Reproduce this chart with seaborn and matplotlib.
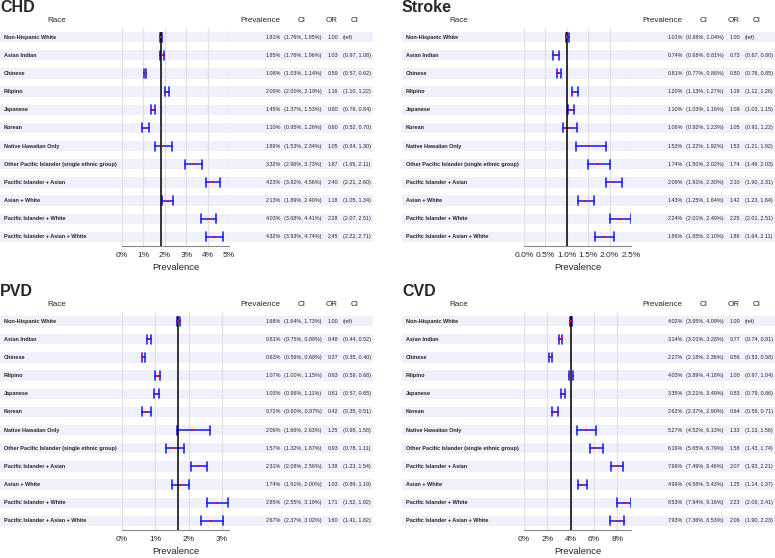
import matplotlib
matplotlib.use("Agg")
import matplotlib.pyplot as plt
from matplotlib import transforms
from matplotlib.patches import Rectangle
import pandas as pd
import seaborn as sns

sns.set_style("white")
plt.rcParams["font.family"] = ["Liberation Sans", "DejaVu Sans"]

races = [
    "Non-Hispanic White",
    "Asian Indian",
    "Chinese",
    "Filipino",
    "Japanese",
    "Korean",
    "Native Hawaiian Only",
    "Other Pacific Islander (single ethnic group)",
    "Pacific Islander + Asian",
    "Asian + White",
    "Pacific Islander + White",
    "Pacific Islander + Asian + White",
]

# CHD
chd_prev = [1.81, 1.85, 1.08, 2.09, 1.45, 1.10, 1.89, 3.32, 4.23, 2.13, 4.03, 4.32]
chd_lo = [1.76, 1.76, 1.03, 2.00, 1.37, 0.95, 1.53, 2.96, 3.92, 1.89, 3.68, 3.93]
chd_hi = [1.85, 1.96, 1.14, 2.19, 1.53, 1.26, 2.34, 3.73, 4.56, 2.40, 4.41, 4.74]
chd_or = [1.00, 1.03, 0.59, 1.16, 0.80, 0.60, 1.05, 1.87, 2.40, 1.18, 2.28, 2.45]
chd_or_lo = [None, 0.97, 0.57, 1.10, 0.76, 0.52, 0.84, 1.65, 2.21, 1.05, 2.07, 2.22]
chd_or_hi = [None, 1.08, 0.62, 1.22, 0.84, 0.70, 1.30, 2.11, 2.60, 1.34, 2.51, 2.71]

# Stroke
stroke_prev = [1.01, 0.74, 0.81, 1.20, 1.10, 1.06, 1.53, 1.74, 2.09, 1.43, 2.24, 1.86]
stroke_lo = [0.98, 0.68, 0.77, 1.13, 1.03, 0.92, 1.22, 1.50, 1.91, 1.25, 2.01, 1.65]
stroke_hi = [1.04, 0.81, 0.86, 1.27, 1.16, 1.23, 1.92, 2.02, 2.30, 1.64, 2.49, 2.10]
stroke_or = [1.00, 0.73, 0.80, 1.19, 1.09, 1.05, 1.53, 1.74, 2.10, 1.42, 2.25, 1.86]
stroke_or_lo = [None, 0.67, 0.76, 1.12, 1.03, 0.91, 1.21, 1.49, 1.90, 1.23, 2.01, 1.64]
stroke_or_hi = [None, 0.80, 0.85, 1.26, 1.15, 1.22, 1.92, 2.03, 2.31, 1.64, 2.51, 2.11]

# PVD
pvd_prev = [1.68, 0.81, 0.63, 1.07, 1.03, 0.72, 2.09, 1.57, 2.31, 1.74, 2.85, 2.67]
pvd_lo = [1.64, 0.75, 0.59, 1.00, 0.96, 0.60, 1.66, 1.32, 2.08, 1.51, 2.55, 2.37]
pvd_hi = [1.73, 0.88, 0.68, 1.15, 1.11, 0.87, 2.63, 1.87, 2.56, 2.00, 3.19, 3.02]
pvd_or = [1.00, 0.48, 0.37, 0.63, 0.61, 0.42, 1.25, 0.93, 1.38, 1.03, 1.71, 1.60]
pvd_or_lo = [None, 0.44, 0.35, 0.59, 0.57, 0.35, 0.98, 0.78, 1.23, 0.89, 1.52, 1.41]
pvd_or_hi = [None, 0.52, 0.40, 0.68, 0.65, 0.51, 1.58, 1.11, 1.54, 1.19, 1.92, 1.82]

# CVD
cvd_prev = [4.02, 3.14, 2.27, 4.03, 3.35, 2.62, 5.27, 6.19, 7.96, 4.99, 8.53, 7.93]
cvd_lo = [3.95, 3.01, 2.18, 3.89, 3.21, 2.37, 4.52, 5.65, 7.49, 4.58, 7.94, 7.36]
cvd_hi = [4.09, 3.28, 2.36, 4.18, 3.49, 2.90, 6.13, 6.79, 8.46, 5.43, 9.16, 8.53]
cvd_or = [1.00, 0.77, 0.56, 1.00, 0.83, 0.64, 1.33, 1.58, 2.07, 1.25, 2.23, 2.06]
cvd_or_lo = [None, 0.74, 0.53, 0.97, 0.79, 0.58, 1.13, 1.43, 1.93, 1.14, 2.06, 1.90]
cvd_or_hi = [None, 0.81, 0.58, 1.04, 0.86, 0.71, 1.56, 1.74, 2.21, 1.37, 2.41, 2.23]

panels = [
    ("CHD", chd_prev, chd_lo, chd_hi, chd_or, chd_or_lo, chd_or_hi),
    ("Stroke", stroke_prev, stroke_lo, stroke_hi, stroke_or, stroke_or_lo, stroke_or_hi),
    ("PVD", pvd_prev, pvd_lo, pvd_hi, pvd_or, pvd_or_lo, pvd_or_hi),
    ("CVD", cvd_prev, cvd_lo, cvd_hi, cvd_or, cvd_or_lo, cvd_or_hi),
]
# axis settings per panel: (xmax, ticks, label format)
axis_opts = {
    "CHD": (5.0, [0, 1, 2, 3, 4, 5], "{:.0f}%"),
    "Stroke": (2.5, [0, 0.5, 1.0, 1.5, 2.0, 2.5], "{:.1f}%"),
    "PVD": (3.21, [0, 1, 2, 3], "{:.0f}%"),
    "CVD": (9.16, [0, 2, 4, 6, 8], "{:.0f}%"),
}
offsets = [(0, 0), (402, 0), (0, 284), (402, 284)]

W, H = 775, 558
fig = plt.figure(figsize=(W / 100, H / 100), dpi=100)
bg = fig.add_axes([0, 0, 1, 1])
bg.set_xlim(0, W)
bg.set_ylim(H, 0)
bg.axis("off")

band_col = "#f0f0fa"
bar_col = "#2626f2"

for (name, prev, lo, hi, odds, odds_lo, odds_hi), (dx, dy) in zip(panels, offsets):
    xmax, ticks, fmt = axis_opts[name]
    ax = fig.add_axes([(122 + dx) / W, 1 - (246 + dy) / H, 107 / W, 218 / H])
    ax.patch.set_alpha(0)

    df = pd.DataFrame({"race": races * 3, "value": lo + prev + hi})
    sns.pointplot(data=df, x="value", y="race", order=races, orient="h",
                  estimator="median", errorbar=("pi", 100), color="red",
                  linestyle="none", capsize=0.5,
                  err_kws={"color": bar_col, "linewidth": 1.2}, ax=ax)
    for ln in ax.lines:
        if ln.get_marker() == "o":
            ln.set_marker("s")
            ln.set_markersize(1.6)
            ln.set_markeredgewidth(0)
            ln.set_zorder(5)

    n = len(races)
    ax.vlines(prev[0], -0.3, n - 0.5, color="black", lw=1.1, zorder=4)
    ax.set_ylim(n - 0.5, -0.5)
    ax.set_xlim(0, xmax)
    ax.set_xticks(ticks)
    ax.set_xticklabels([fmt.format(t) for t in ticks])
    ax.set_yticks([])
    ax.set_ylabel("")
    ax.set_xlabel("Prevalence", fontsize=6.8, labelpad=2.5)
    ax.grid(axis="x", color="#e1e1e1", lw=0.9)
    ax.set_axisbelow(True)
    for s in ["top", "left", "right"]:
        ax.spines[s].set_visible(False)
    ax.spines["bottom"].set_color("#888888")
    ax.spines["bottom"].set_linewidth(0.8)
    ax.tick_params(axis="x", length=2.5, width=0.7, color="#888888",
                   labelsize=6, pad=2)

    tr = transforms.blended_transform_factory(bg.transData, ax.transData)
    for i in range(n):
        bg.add_patch(Rectangle((dx, i - 0.28), 373, 0.56, transform=tr,
                               facecolor=band_col, edgecolor="none",
                               clip_on=False, zorder=0))
        bg.text(dx + 4, i, races[i], transform=tr, ha="left", va="center",
                fontsize=4, fontweight="bold")
        bg.text(dx + 281, i, f"{prev[i]:.2f}%", transform=tr, ha="right",
                va="center", fontsize=3.9)
        bg.text(dx + 284, i, f"({lo[i]:.2f}%, {hi[i]:.2f}%)", transform=tr,
                ha="left", va="center", fontsize=3.9)
        bg.text(dx + 333, i, f"{odds[i]:.2f}", transform=tr, ha="center",
                va="center", fontsize=3.9)
        ci = "(ref)" if odds_lo[i] is None else f"({odds_lo[i]:.2f}, {odds_hi[i]:.2f})"
        bg.text(dx + 343, i, ci, transform=tr, ha="left", va="center",
                fontsize=3.9)

    hy = 21 + dy
    for label, hx in [("Race", 57), ("Prevalence", 260), ("CI", 302),
                      ("OR", 332), ("CI", 355)]:
        bg.text(dx + hx, hy, label, ha="center", va="center", fontsize=5.8)
    bg.text(dx, 11.5 + dy, name, ha="left", va="baseline", fontsize=11.5,
            fontweight="bold")

fig.savefig("out.png", dpi=100)
